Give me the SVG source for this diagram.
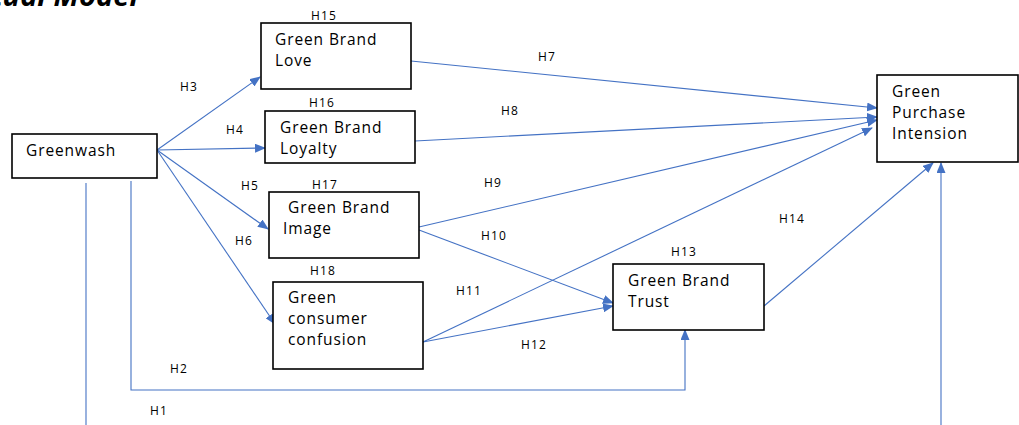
<svg xmlns="http://www.w3.org/2000/svg" width="1019" height="425" viewBox="0 0 1019 425">
<defs>
<marker id="ah" markerWidth="11" markerHeight="9" refX="10" refY="4.5" orient="auto" markerUnits="userSpaceOnUse">
<path d="M0,0 L11,4.5 L0,9 Z" fill="#4472C4"/>
</marker>
<style>
.box{fill:#fff;stroke:#000;stroke-width:1.6}
.t{font-family:"Open Sans","Liberation Sans",sans-serif;font-size:15.5px;letter-spacing:0.9px;fill:#000}
.l{font-family:"Open Sans","Liberation Sans",sans-serif;font-size:12px;letter-spacing:1.2px;fill:#000}
.c{fill:none;stroke:#4472C4;stroke-width:1.1}
.a{marker-end:url(#ah)}
.title{font-family:"Open Sans","Liberation Sans",sans-serif;font-size:29px;font-weight:bold;font-style:italic;fill:#000}
</style>
</defs>
<rect width="1019" height="425" fill="#fff"/>
<text class="title" x="138" y="6" text-anchor="end">Conceptual Model</text>
<g id="connectors">
<line class="c a" x1="157" y1="150" x2="260" y2="77"/>
<line class="c a" x1="157" y1="150" x2="265" y2="148"/>
<line class="c a" x1="157" y1="150" x2="268" y2="229"/>
<line class="c a" x1="157" y1="150" x2="275" y2="324"/>
<line class="c a" x1="411" y1="61" x2="877" y2="108"/>
<line class="c a" x1="415" y1="141" x2="877" y2="117"/>
<line class="c a" x1="419" y1="227" x2="877" y2="120"/>
<line class="c a" x1="419" y1="230" x2="613" y2="303"/>
<line class="c a" x1="423" y1="342" x2="872" y2="128"/>
<line class="c a" x1="423" y1="342" x2="613" y2="306"/>
<line class="c a" x1="764" y1="306" x2="933" y2="163"/>
<line class="c a" x1="941" y1="425" x2="941" y2="163"/>
<line class="c" x1="86" y1="183" x2="86" y2="425"/>
<polyline class="c a" points="131,181 131,390 685,390 685,330"/>
</g>
<g id="greenwash"><rect class="box" x="12" y="134" width="145" height="44"/><text class="t" x="26" y="156">Greenwash</text></g>
<g id="love"><rect class="box" x="261" y="23" width="150" height="66"/><text class="t" x="275" y="45">Green Brand</text><text class="t" x="275" y="66">Love</text></g>
<g id="loyalty"><rect class="box" x="265" y="111" width="150" height="52"/><text class="t" x="280" y="133">Green Brand</text><text class="t" x="280" y="154">Loyalty</text></g>
<g id="image"><rect class="box" x="269" y="192" width="150" height="66"/><text class="t" x="288" y="213">Green Brand</text><text class="t" x="283" y="234">Image</text></g>
<g id="confusion"><rect class="box" x="273" y="282" width="150" height="87"/><text class="t" x="288" y="303">Green</text><text class="t" x="288" y="324">consumer</text><text class="t" x="288" y="345">confusion</text></g>
<g id="trust"><rect class="box" x="613" y="264" width="151" height="66"/><text class="t" x="628" y="286">Green Brand</text><text class="t" x="628" y="307">Trust</text></g>
<g id="purchase"><rect class="box" x="877" y="75" width="141" height="87"/><text class="t" x="892" y="97">Green</text><text class="t" x="892" y="118">Purchase</text><text class="t" x="892" y="139">Intension</text></g>
<g id="labels">
<text class="l" x="311" y="20">H15</text>
<text class="l" x="309" y="107">H16</text>
<text class="l" x="312" y="189">H17</text>
<text class="l" x="310" y="275">H18</text>
<text class="l" x="671" y="256">H13</text>
<text class="l" x="180" y="91">H3</text>
<text class="l" x="226" y="134">H4</text>
<text class="l" x="241" y="190">H5</text>
<text class="l" x="235" y="245">H6</text>
<text class="l" x="538" y="61">H7</text>
<text class="l" x="501" y="115">H8</text>
<text class="l" x="484" y="187">H9</text>
<text class="l" x="481" y="240">H10</text>
<text class="l" x="456" y="295">H11</text>
<text class="l" x="521" y="349">H12</text>
<text class="l" x="779" y="223">H14</text>
<text class="l" x="170" y="373">H2</text>
<text class="l" x="150" y="415">H1</text>
</g>
</svg>
